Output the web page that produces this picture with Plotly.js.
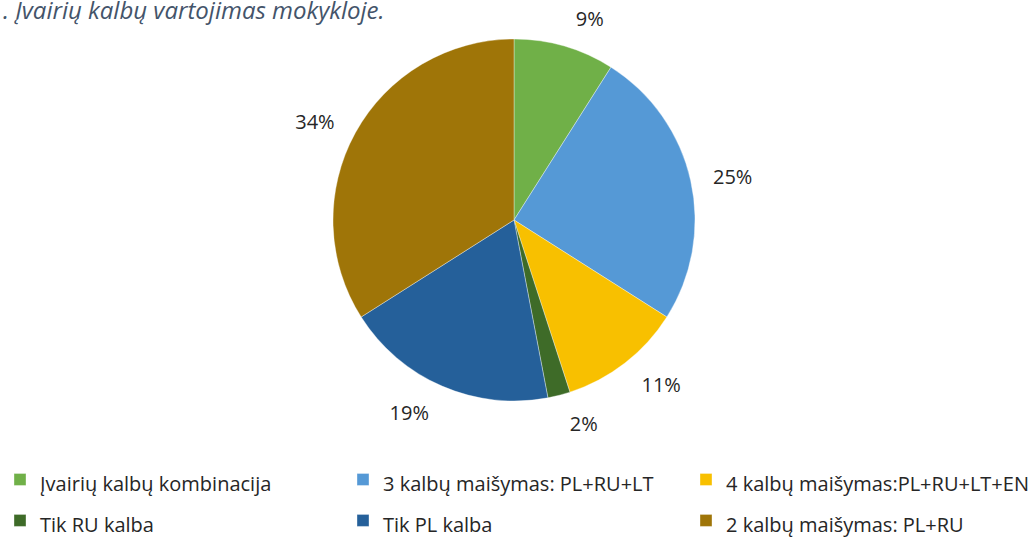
<!DOCTYPE html>
<html>
<head>
<meta charset="utf-8">
<script src="https://cdn.plot.ly/plotly-3.0.1.min.js"></script>
<style>html,body{margin:0;padding:0;background:#fff;}#chart{width:1028px;height:539px;}</style>
</head>
<body>
<div id="chart"></div>
<script>
const categories = [
  "Įvairių kalbų kombinacija",
  "3 kalbų maišymas: PL+RU+LT",
  "4 kalbų maišymas:PL+RU+LT+EN",
  "Tik RU kalba",
  "Tik PL kalba",
  "2 kalbų maišymas: PL+RU"
];
const shares = [9, 25, 11, 2, 19, 34];
const sliceColors = ["#70b048", "#5599d6", "#f8c000", "#3e6b28", "#25609a", "#9f7508"];
const titleText = ". Įvairių kalbų vartojimas mokykloje.";

const FONT = "'Open Sans', 'Noto Sans', sans-serif";
// legend entries rendered at 20px while the legend base font sets the row pitch
const legendLabels = categories.map(c => '<span style="font-size:20px">' + c + '</span>');

const pieDomainX = [333/1028, 695/1028];
const pieDomainY = [0.1167, 0.9141];
// slightly larger transparent ring used only to place the percentage labels further out
const labelDomainX = [317/1028, 711/1028];
const labelDomainY = [0.0815, 0.9493];

const pieTrace = {
  type: "pie",
  labels: legendLabels,
  values: shares,
  sort: false,
  direction: "clockwise",
  rotation: 0,
  marker: {colors: sliceColors, line: {color: "rgba(255,255,255,0.6)", width: 0.6}},
  textinfo: "none",
  hoverinfo: "none",
  domain: {x: pieDomainX, y: pieDomainY}
};

const labelTrace = {
  type: "pie",
  labels: legendLabels,
  values: shares,
  sort: false,
  direction: "clockwise",
  rotation: 0,
  showlegend: false,
  marker: {colors: shares.map(() => "rgba(0,0,0,0)"), line: {width: 0}},
  texttemplate: "%{percent:.0%}",
  textposition: "outside",
  outsidetextfont: {family: FONT, size: 20, color: "#262626"},
  automargin: false,
  hoverinfo: "none",
  domain: {x: labelDomainX, y: labelDomainY}
};

const layout = {
  width: 1028, height: 539,
  margin: {l: 0, r: 0, t: 0, b: 0},
  paper_bgcolor: "#ffffff",
  showlegend: true,
  title: {
    text: titleText,
    x: 0, xref: "container", xanchor: "left",
    y: 0.9800, yref: "container", yanchor: "middle",
    pad: {l: 3},
    font: {family: FONT, size: 24, color: "#44546A", style: "italic"}
  },
  legend: {
    orientation: "h",
    xref: "container", yref: "container",
    x: 0, xanchor: "left",
    y: 1 - 454/539, yanchor: "top",
    entrywidth: 298, entrywidthmode: "pixels",
    font: {family: FONT, size: 29.2, color: "#262626"},
    bgcolor: "rgba(0,0,0,0)"
  }
};

Plotly.newPlot("chart", [pieTrace, labelTrace], layout, {displayModeBar: false, staticPlot: true});
</script>
</body>
</html>
